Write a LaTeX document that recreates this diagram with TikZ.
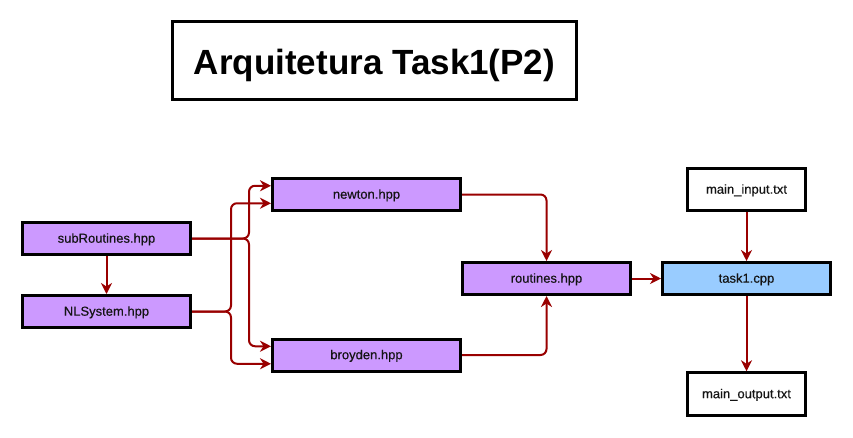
\documentclass[tikz,border=0pt]{standalone}
\usepackage{fontspec}
\setmainfont{Liberation Sans}
\newfontfamily\nodefont[FakeBold=0.35]{Liberation Sans}
\usetikzlibrary{arrows.meta,calc}
\definecolor{purp}{HTML}{CC99FF}
\definecolor{lblue}{HTML}{99CCFF}
\definecolor{darkred}{HTML}{990000}
\tikzset{
  box/.style={draw=black, line width=3pt, inner sep=0pt, text height=10.4pt, text depth=2pt,
    font=\nodefont\fontsize{13}{15}\selectfont, text=black!92},
  pbox/.style={box, fill=purp, minimum width=168pt, minimum height=32pt},
  wbox/.style={box, fill=purp, minimum width=188pt, minimum height=32pt},
  bbox/.style={box, fill=lblue, minimum width=168pt, minimum height=32pt},
  fbox/.style={box, fill=white, minimum width=118pt, minimum height=42.5pt},
  conn/.style={draw=darkred, line width=2pt, rounded corners=6pt,
    -{Stealth[length=11pt,width=11pt,inset=3.5pt]}},
}
\begin{document}
\begin{tikzpicture}[x=1pt,y=-1pt]
\useasboundingbox (0,0) rectangle (853,437);
\node[draw=black, line width=3pt, minimum width=404pt, minimum height=78pt, inner sep=0pt,
  text height=27.6pt, text depth=0pt,
  font=\fontsize{35}{40}\selectfont\bfseries] (title) at (374.5,60.5) {Arquitetura Task1(P2)};

\node[pbox] (subr) at (106.5,238.5) {subRoutines.hpp};
\node[pbox] (nls) at (106.5,311.5) {NLSystem.hpp};
\node[wbox] (newton) at (366.5,194.5) {newton.hpp};
\node[wbox] (broyden) at (366.5,355) {broyden.hpp};
\node[pbox] (routines) at (546.5,278.5) {routines.hpp};
\node[bbox] (task) at (746.5,278.5) {task1.cpp};
\node[fbox] (in) at (746.5,189.5) {main\_input.txt};
\node[fbox] (out) at (746.5,394) {main\_output.txt};

\coordinate (n1) at ($(newton.north west)!0.25!(newton.south west)$);
\coordinate (n2) at ($(newton.north west)!0.75!(newton.south west)$);
\coordinate (b1) at ($(broyden.north west)!0.25!(broyden.south west)$);
\coordinate (b2) at ($(broyden.north west)!0.75!(broyden.south west)$);

\draw[conn] (subr.south) -- (nls.north);
\draw[conn] (subr.east) -- ++(57,0) |- (n1);
\draw[conn] (subr.east) -- ++(57,0) |- (b1);
\draw[conn] (nls.east) -- ++(39,0) |- (n2);
\draw[conn] (nls.east) -- ++(39,0) |- (b2);
\draw[conn] (newton.east) -| (routines.north);
\draw[conn] (broyden.east) -| (routines.south);
\draw[conn] (routines.east) -- (task.west);
\draw[conn] (in.south) -- (task.north);
\draw[conn] (task.south) -- (out.north);
\end{tikzpicture}
\end{document}
